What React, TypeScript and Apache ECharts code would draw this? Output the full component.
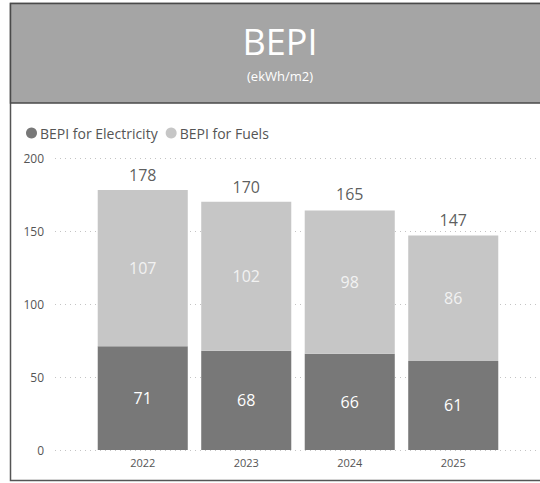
import React, { useEffect, useRef } from "react";
import * as echarts from "echarts";

const categories = ["2022", "2023", "2024", "2025"];
const electricity = [71, 68, 66, 61];
const fuels = [107, 102, 98, 86];
const totals = [178, 170, 165, 147];
const yTicks = { min: 0, max: 200, interval: 50 };

const FONT = "'Open Sans', 'Noto Sans', sans-serif";

export default function App() {
  const ref = useRef<HTMLDivElement>(null);
  useEffect(() => {
    if (!ref.current) return;
    const chart = echarts.init(ref.current, undefined, { renderer: "svg" });
    chart.setOption({
      animation: false,
      backgroundColor: "#ffffff",
      textStyle: { fontFamily: FONT },
      graphic: [
        {
          type: "rect",
          z: -10,
          shape: { x: 10.5, y: 3.5, width: 560, height: 477 },
          style: { fill: "#ffffff", stroke: "#555555", lineWidth: 1.5 },
        },
        {
          type: "rect",
          z: -9,
          shape: { x: 10.5, y: 3.5, width: 560, height: 99.5 },
          style: { fill: "#a5a5a5", stroke: "#4a4a4a", lineWidth: 1.5 },
        },
      ],
      title: [
        {
          text: "BEPI",
          left: 275,
          textAlign: "center",
          top: 18,
          textStyle: { color: "#ffffff", fontSize: 36, fontWeight: "normal", fontFamily: FONT },
        },
        {
          text: "(ekWh/m2)",
          left: 275,
          textAlign: "center",
          top: 64,
          textStyle: { color: "#ffffff", fontSize: 13, fontWeight: "normal", fontFamily: FONT },
        },
      ],
      legend: {
        left: 21,
        top: 121,
        icon: "circle",
        itemWidth: 11,
        itemHeight: 11,
        itemGap: 8,
        textStyle: { color: "#555555", fontSize: 14, fontFamily: FONT, padding: [0, 0, 0, -2] },
        data: ["BEPI for Electricity", "BEPI for Fuels"],
      },
      grid: [
        { left: 55, right: 0, top: 158, bottom: 33 },
        { left: 91, right: 35, top: 158, bottom: 33 },
      ],
      xAxis: [
        { type: "value", gridIndex: 0, show: false, min: 0, max: 1 },
        {
          type: "category",
          gridIndex: 1,
          data: categories,
          axisLine: { show: false },
          axisTick: { show: false },
          axisLabel: { color: "#555555", fontSize: 11, margin: 7, fontFamily: FONT },
        },
      ],
      yAxis: [
        {
          type: "value",
          gridIndex: 0,
          min: yTicks.min,
          max: yTicks.max,
          interval: yTicks.interval,
          axisLine: { show: false },
          axisTick: { show: false },
          axisLabel: { color: "#555555", fontSize: 12, margin: 11, fontFamily: FONT },
          splitLine: { lineStyle: { type: [1, 4], color: "#c4c4c4", width: 1 } },
        },
        {
          type: "value",
          gridIndex: 1,
          min: yTicks.min,
          max: yTicks.max,
          interval: yTicks.interval,
          show: false,
          splitLine: { show: false },
        },
      ],
      series: [
        {
          name: "BEPI for Electricity",
          type: "bar",
          stack: "bepi",
          xAxisIndex: 1,
          yAxisIndex: 1,
          barCategoryGap: "13%",
          data: electricity,
          itemStyle: { color: "#787878" },
          label: {
            show: true,
            position: "inside",
            color: "#ffffff",
            fontSize: 16,
            fontFamily: FONT,
          },
        },
        {
          name: "BEPI for Fuels",
          type: "bar",
          stack: "bepi",
          xAxisIndex: 1,
          yAxisIndex: 1,
          barCategoryGap: "13%",
          data: fuels,
          itemStyle: { color: "#c6c6c6" },
          label: {
            show: true,
            position: "inside",
            color: "#f2f2f2",
            fontSize: 16,
            fontFamily: FONT,
          },
        },
        {
          name: "Total",
          type: "scatter",
          xAxisIndex: 1,
          yAxisIndex: 1,
          data: totals,
          symbol: "circle",
          symbolSize: 2,
          itemStyle: { color: "rgba(0,0,0,0)" },
          silent: true,
          z: 5,
          label: {
            show: true,
            position: "top",
            distance: 6,
            color: "#333333",
            fontSize: 16,
            fontFamily: FONT,
          },
        },
      ],
    });
    return () => chart.dispose();
  }, []);
  return (
    <div
      ref={ref}
      style={{ position: "fixed", left: 0, top: 0, width: 540, height: 483 }}
    />
  );
}
